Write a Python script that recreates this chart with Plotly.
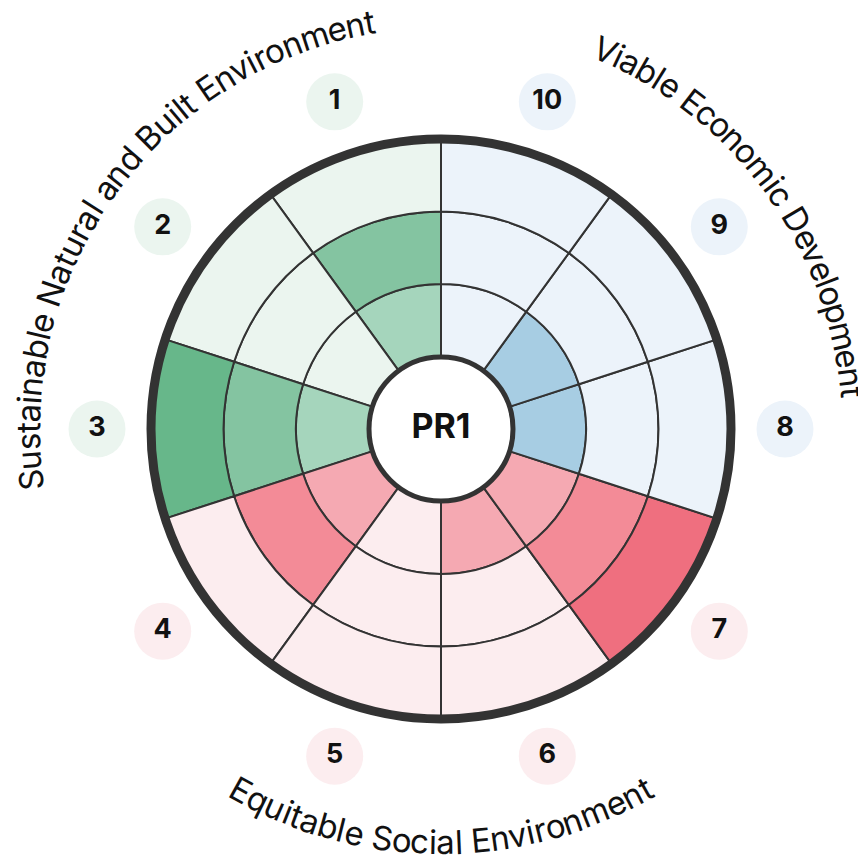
import math
import plotly.graph_objects as go

# ---- data -------------------------------------------------------------
sectors = ["1", "2", "3", "4", "5", "6", "7", "8", "9", "10"]
sector_theme = ["green", "green", "green", "red", "red", "red", "red", "blue", "blue", "blue"]
sector_level = [2, 0, 3, 2, 0, 1, 3, 1, 1, 0]   # how many rings are filled, from the hub out
rings = [1, 2, 3]

themes = ["Sustainable Natural and Built Environment",
          "Viable Economic Development",
          "Equitable Social Environment"]
center_label = "PR1"

# light (empty) shade, then the shades for ring 1, 2, 3
palette = {
    "green": ["#ebf5ef", "#a5d5bc", "#84c4a1", "#67b78a"],
    "red": ["#fcedef", "#f5a9b2", "#f38b97", "#ef6f7f"],
    "blue": ["#ecf3fa", "#a7cde3", "#80b7d8", "#5b9fc9"],
}

# ---- layout constants (pixels) ----------------------------------------
W, H = 866, 865
PAGE_OFFSET = 8            # default body margin of the html page
CX, CY = 441 - PAGE_OFFSET, 429 - PAGE_OFFSET   # chart centre inside the figure
UNIT = 72.5                # pixels per radial unit
R_MAIN = 4 * UNIT          # outer edge
R_BIG = 415                # overlay polar for the number badges
BADGE_R = 344 / UNIT
TEXT_R = 413
FONT = "Inter"


def domain(radius):
    yb = H - CY
    return dict(x=[(CX - radius) / W, (CX + radius) / W],
                y=[(yb - radius) / H, (yb + radius) / H])


fig = go.Figure()

# cells: one barpolar trace per ring
for ring in rings:
    colors = [palette[t][ring] if lvl >= ring else palette[t][0]
              for t, lvl in zip(sector_theme, sector_level)]
    fig.add_trace(go.Barpolar(
        theta=sectors, r=[1] * len(sectors), base=[ring] * len(sectors),
        width=1, marker=dict(color=colors, line=dict(color="#333333", width=2)),
        hoverinfo="skip", subplot="polar",
    ))

# hub
fig.add_trace(go.Scatterpolar(
    theta=[sectors[0]], r=[0], mode="markers+text", text=[f"<b>{center_label}</b>"],
    textposition="middle center", textfont=dict(family=FONT, size=34, color="#111111"),
    marker=dict(size=2 * UNIT - 1, color="white", line=dict(color="#333333", width=5)),
    hoverinfo="skip", subplot="polar",
))

# number badges
fig.add_trace(go.Scatterpolar(
    theta=sectors, r=[BADGE_R] * len(sectors), mode="markers+text",
    text=[f"<b>{s}</b>" for s in sectors], textposition="middle center",
    textfont=dict(family=FONT, size=27, color="#111111"),
    marker=dict(size=57, color=[palette[t][0] for t in sector_theme], line=dict(width=0)),
    hoverinfo="skip", subplot="polar2",
))

ang_common = dict(type="category", direction="counterclockwise", rotation=108,
                  showgrid=False, showticklabels=False, ticks="")

fig.update_layout(
    width=W, height=H, margin=dict(l=0, r=0, t=0, b=0),
    paper_bgcolor="white", showlegend=False,
    polar=dict(
        domain=domain(R_MAIN), bgcolor="white",
        radialaxis=dict(range=[0, 4], visible=False),
        angularaxis=dict(**ang_common, showline=True, linewidth=9, linecolor="#333333"),
    ),
    polar2=dict(
        domain=domain(R_BIG), bgcolor="rgba(0,0,0,0)",
        radialaxis=dict(range=[0, R_BIG / UNIT], visible=False),
        angularaxis=dict(**ang_common, showline=False),
    ),
)

# ---- curved theme titles, one annotation per glyph ---------------------
widths = {" ": 0.28, "a": 0.56, "b": 0.6, "c": 0.55, "d": 0.6, "e": 0.57, "i": 0.25,
          "l": 0.25, "m": 0.87, "n": 0.59, "o": 0.58, "p": 0.6, "q": 0.6, "r": 0.37,
          "s": 0.52, "t": 0.35, "u": 0.59, "v": 0.53, "S": 0.64, "N": 0.75, "B": 0.66,
          "E": 0.6, "V": 0.7, "D": 0.72}
# angle (clockwise from top) of the first and last glyph centre, and whether it sits below
title_arcs = [(262.9, 350.1, False), (23.4, 84.9, False), (209.0, 150.3, True)]

for text, (a0, a1, bottom) in zip(themes, title_arcs):
    w = [widths.get(ch, 0.58) for ch in text]
    mids, acc = [], 0.0
    for wi in w:
        mids.append(acc + wi / 2)
        acc += wi
    for ch, m in zip(text, mids):
        if ch == " ":
            continue
        ang = a0 + (m - mids[0]) / (mids[-1] - mids[0]) * (a1 - a0)
        rad = math.radians(ang)
        px = CX + TEXT_R * math.sin(rad)
        py = CY - TEXT_R * math.cos(rad)
        rot = ang - 180 if bottom else (ang - 360 if ang > 180 else ang)
        fig.add_annotation(
            x=px / W, y=1 - py / H, xref="paper", yref="paper",
            text=ch, showarrow=False, textangle=rot,
            xanchor="center", yanchor="middle",
            font=dict(family=FONT, size=33, color="#111111"),
        )

fig.write_html("out.html")
